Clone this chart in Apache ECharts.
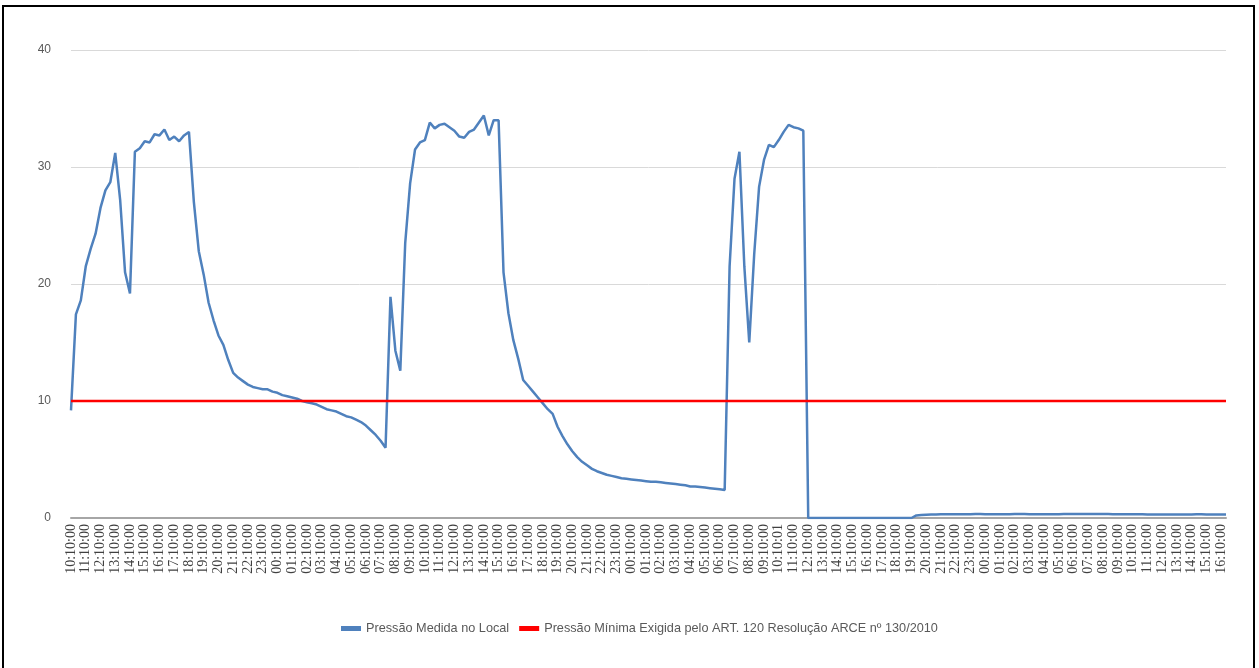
<!DOCTYPE html>
<html>
<head>
<meta charset="utf-8">
<script src="https://cdn.jsdelivr.net/npm/echarts@6/dist/echarts.min.js"></script>
<style>
  html, body { margin: 0; padding: 0; background: #ffffff; }
  #frame { position: absolute; left: 2px; top: 5px; width: 1253px; height: 670px; border: 2px solid #000; box-sizing: border-box; }
  #chart { position: absolute; left: 0; top: 0; width: 1259px; height: 668px; }
</style>
</head>
<body>
<div id="frame"></div>
<div id="chart"></div>
<script>
// Hourly tick labels (as printed on the x axis)
const hourLabels = [
  "10:10:00","11:10:00","12:10:00","13:10:00","14:10:00","15:10:00","16:10:00","17:10:00","18:10:00","19:10:00",
  "20:10:00","21:10:00","22:10:00","23:10:00",
  "00:10:00","01:10:00","02:10:00","03:10:00","04:10:00","05:10:00","06:10:00","07:10:00","08:10:00","09:10:00",
  "10:10:00","11:10:00","12:10:00","13:10:00","14:10:00","15:10:00","16:10:00","17:10:00","18:10:00","19:10:00",
  "20:10:00","21:10:00","22:10:00","23:10:00",
  "00:10:00","01:10:00","02:10:00","03:10:00","04:10:00","05:10:00","06:10:00","07:10:00","08:10:00","09:10:00",
  "10:10:01","11:10:00","12:10:00","13:10:00","14:10:00","15:10:00","16:10:00","17:10:00","18:10:00","19:10:00",
  "20:10:00","21:10:00","22:10:00","23:10:00",
  "00:10:00","01:10:00","02:10:00","03:10:00","04:10:00","05:10:00","06:10:00","07:10:00","08:10:00","09:10:00",
  "10:10:00","11:10:00","12:10:00","13:10:00","14:10:00","15:10:00","16:10:00"
];

// Measured pressure (mca), one reading every 20 minutes
const day1Rise = [9.2,17.4,18.6,21.5,23.0,24.3,26.5,28.0,28.7,31.2,
                  27.2,21.0,19.2,31.3,31.6,32.2,32.1,32.8,32.7,33.2,
                  32.3,32.6,32.2,32.7,33.0];
const night1 = [27.0,22.8,20.8,18.4,16.9,
                15.6,14.8,13.5,12.4,12.0,11.7,11.4,11.2,11.1,11.0,
                11.0,10.8,10.7,10.5,10.4,10.3,10.2,10.0,9.9,9.8,
                9.7,9.5,9.3,9.2,9.1,8.9,8.7,8.6,8.4,8.2,
                7.9,7.5,7.1,6.6,6.0];
const day2 = [18.9,14.3,12.6,23.5,28.6,
              31.5,32.1,32.3,33.8,33.3,33.6,33.7,33.4,33.1,32.6,
              32.5,33.0,33.2,33.8,34.4,32.7,34.0,34.0];
const night2 = [21.0,17.5,
                15.2,13.6,11.8,11.3,10.8,10.3,9.8,9.3,8.9,7.8,
                7.0,6.3,5.7,5.2,4.8,4.5,4.2,4.0,3.85,3.7,
                3.6,3.5,3.4,3.35,3.3,3.25,3.2,3.15,3.1,3.1,
                3.05,3.0,2.95,2.9,2.85,2.8,2.7,2.7,2.65,2.6,
                2.55,2.5,2.45,2.4];
const day3 = [21.5,29.0,31.3,21.5,15.0,22.5,
              28.3,30.6,31.9,31.7,32.3,33.0,33.6,33.4,33.3,33.1];
const outage = [0,0,0,0,0,0,0,0,0,0,0,0,0,0,0,0,0,0,0,0,0,0];
const lowTail = [0.22,0.25,0.28,0.30,0.30,0.32,0.32,0.33,
                 0.33,0.32,0.32,0.33,0.34,0.34,0.33,0.33,
                 0.32,0.32,0.33,0.33,0.34,0.34,0.34,0.33,
                 0.33,0.32,0.32,0.32,0.33,0.33,0.34,0.35,
                 0.35,0.35,0.34,0.34,0.35,0.35,0.34,0.34,
                 0.33,0.33,0.33,0.32,0.32,0.31,0.31,0.30,
                 0.30,0.30,0.29,0.29,0.29,0.30,0.30,0.30,
                 0.30,0.31,0.31,0.30,0.30,0.30,0.30,0.30];

const measured = [].concat(day1Rise, night1, day2, night2, day3, outage, lowTail);
const minRequired = 10;

const seriesNames = ["Pressão Medida no Local", "Pressão Mínima Exigida pelo ART. 120 Resolução ARCE nº 130/2010"];

// categories: hourly labels plus the two intermediate 20-minute readings
const categories = measured.map(function (_, i) {
  const h = Math.floor(i / 3);
  const base = hourLabels[h];
  if (i % 3 === 0) return base;
  return base.slice(0, 3) + (i % 3 === 1 ? "30:00" : "50:00");
});
const minLine = categories.map(function () { return minRequired; });

const chart = echarts.init(document.getElementById('chart'), null, { renderer: 'canvas' });
chart.setOption({
  animation: false,
  backgroundColor: 'transparent',
  grid: { left: 71, right: 33, top: 50, bottom: 150, containLabel: false },
  legend: {
    left: 336, top: 617,
    itemWidth: 20, itemHeight: 5, itemGap: 10,
    textStyle: { fontFamily: 'Liberation Sans', fontSize: 12.7, color: '#595959' },
    data: [
      { name: seriesNames[0], icon: 'rect' },
      { name: seriesNames[1], icon: 'rect' }
    ]
  },
  xAxis: {
    type: 'category',
    data: categories,
    boundaryGap: false,
    axisLine: { show: true, lineStyle: { color: '#a6a6a6', width: 2 } },
    axisTick: { show: false },
    axisLabel: {
      interval: 2, rotate: 90, margin: 6,
      fontFamily: 'Liberation Serif', fontSize: 14, color: '#404040'
    },
    splitLine: { show: false }
  },
  yAxis: {
    type: 'value', min: 0, max: 40, interval: 10,
    axisLine: { show: false }, axisTick: { show: false },
    axisLabel: { margin: 20, fontFamily: 'Liberation Sans', fontSize: 12, color: '#595959' },
    splitLine: { lineStyle: { color: '#d9d9d9', width: 1 } }
  },
  series: [
    {
      name: seriesNames[0], type: 'line', data: measured,
      symbol: 'none', smooth: false,
      itemStyle: { color: '#4f81bd' },
      lineStyle: { color: '#4f81bd', width: 2.5 }, z: 3
    },
    {
      name: seriesNames[1], type: 'line', data: minLine,
      symbol: 'none',
      itemStyle: { color: '#ff0000' },
      lineStyle: { color: '#ff0000', width: 2.5 }, z: 4
    }
  ]
});
</script>
</body>
</html>
